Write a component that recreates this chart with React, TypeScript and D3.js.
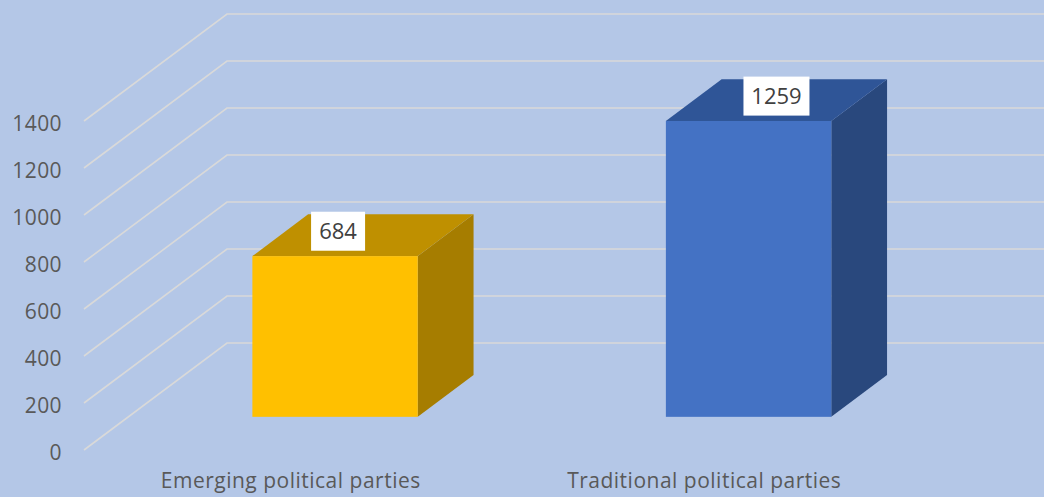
import React, { useEffect, useRef } from 'react';
import * as d3 from 'd3';

const categories = ['Emerging political parties', 'Traditional political parties'];
const values = [684, 1259];
const yTicks = [0, 200, 400, 600, 800, 1000, 1200, 1400];

// front / top / side shades per bar
const barColors = [
  { front: '#FFC000', top: '#BF9000', side: '#A67D00' },
  { front: '#4472C4', top: '#2F5597', side: '#29487D' },
];

const W = 1044;
const H = 497;

const App: React.FC = () => {
  const svgRef = useRef<SVGSVGElement>(null);

  useEffect(() => {
    if (!svgRef.current) return;
    const svg = d3.select(svgRef.current);
    svg.selectAll('*').remove();

    const fontFamily = '"Open Sans", "Liberation Sans", sans-serif';

    // oblique projection: floor front edge -> back wall
    const floorY = 450;
    const depthX = 143;
    const depthY = -107;
    const frontLeft = 84;
    const frontRight = 911;

    const y = d3.scaleLinear().domain([0, 1400]).range([0, 329]);
    const x = d3.scaleBand<string>().domain(categories).range([frontLeft, frontRight]);

    svg.append('rect').attr('width', W).attr('height', H).style('fill', '#B4C7E7');

    // gridlines: diagonal on the side wall + horizontal on the back wall
    const grid = svg.append('g');
    grid
      .selectAll('path')
      .data(yTicks)
      .enter()
      .append('path')
      .attr('d', (t) => {
        const fy = floorY - y(t);
        return `M${frontLeft},${fy} L${frontLeft + depthX},${fy + depthY} L${W + 20},${fy + depthY}`;
      })
      .style('fill', 'none')
      .style('stroke', '#D9D9D9')
      .style('stroke-width', 1.6);

    // y tick labels
    svg
      .append('g')
      .selectAll('text')
      .data(yTicks)
      .enter()
      .append('text')
      .attr('x', 62)
      .attr('y', (t) => floorY - y(t) + 3)
      .attr('dy', '0.35em')
      .attr('text-anchor', 'end')
      .style('font-family', fontFamily)
      .style('font-size', '21px')
      .style('letter-spacing', '0.4px')
      .style('fill', '#595959')
      .text((t) => String(t));

    // bars
    const barFrac = 0.4;
    const d0 = 0.31; // bar front depth
    const d1 = 0.7; // bar back depth
    const bars = svg
      .append('g')
      .selectAll('g')
      .data(values)
      .enter()
      .append('g');

    bars.each(function (v, i) {
      const g = d3.select(this);
      const c = barColors[i];
      const cx = (x(categories[i]) as number) + x.bandwidth() / 2 + depthX * d0;
      const bw = x.bandwidth() * barFrac;
      const x0 = cx - bw / 2;
      const x1 = cx + bw / 2;
      const yb = floorY + depthY * d0;
      const yt = yb - y(v);
      const ox = depthX * (d1 - d0);
      const oy = depthY * (d1 - d0);

      // side
      g.append('path')
        .attr('d', `M${x1},${yt} L${x1 + ox},${yt + oy} L${x1 + ox},${yb + oy} L${x1},${yb} Z`)
        .style('fill', c.side);
      // top
      g.append('path')
        .attr('d', `M${x0},${yt} L${x0 + ox},${yt + oy} L${x1 + ox},${yt + oy} L${x1},${yt} Z`)
        .style('fill', c.top);
      // front
      g.append('rect')
        .attr('x', x0)
        .attr('y', yt)
        .attr('width', bw)
        .attr('height', yb - yt)
        .style('fill', c.front);

      // data label box
      const label = String(v);
      const boxW = label.length * 12 + 18;
      const boxH = 39;
      const lx = i === 0 ? cx + 3 : cx + ox / 2;
      const ly = yt + oy / 2 - 4;
      g.append('rect')
        .attr('x', lx - boxW / 2)
        .attr('y', ly - boxH / 2)
        .attr('width', boxW)
        .attr('height', boxH)
        .style('fill', '#FFFFFF');
      g.append('text')
        .attr('x', lx)
        .attr('y', ly)
        .attr('dy', '0.36em')
        .attr('text-anchor', 'middle')
        .style('font-family', fontFamily)
        .style('font-size', '22px')
        .style('fill', '#404040')
        .text(label);
    });

    // category labels at the floor front edge
    svg
      .append('g')
      .selectAll('text')
      .data(categories)
      .enter()
      .append('text')
      .attr('x', (d) => (x(d) as number) + x.bandwidth() / 2)
      .attr('y', 488)
      .attr('text-anchor', 'middle')
      .style('font-family', fontFamily)
      .style('font-size', '21px')
      .style('letter-spacing', '0.5px')
      .style('fill', '#595959')
      .text((d) => d);
  }, []);

  return (
    <svg
      ref={svgRef}
      width={W}
      height={H}
      style={{ position: 'absolute', left: 0, top: 0, display: 'block' }}
    />
  );
};

export default App;
